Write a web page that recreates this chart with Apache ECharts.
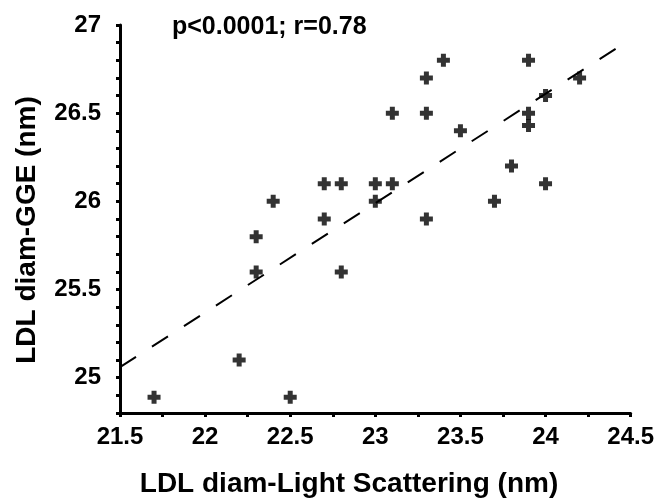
<!DOCTYPE html>
<html>
<head>
    <meta charset="utf-8"/>
    <title>LDL diam</title>
    <script src="https://cdn.jsdelivr.net/npm/echarts@6/dist/echarts.min.js"></script>
    <style>
        html, body { margin: 0; padding: 0; background: #fff; }
        #chart { width: 657px; height: 498px; }
    </style>
</head>
<body>
<div id="chart"></div>
<script>
    // LDL diameter, light scattering (x) vs GGE (y), nm
    var lightScatter = [21.7, 22.2, 22.5, 22.3, 22.3, 22.4, 22.7, 22.8, 22.7, 22.8,
        23.0, 23.0, 23.1, 23.1, 23.3, 23.3, 23.4, 23.3, 23.5, 23.7,
        23.8, 23.9, 23.9, 23.9, 24.0, 24.0, 24.2];
    var gge = [24.89, 25.1, 24.89, 25.8, 25.6, 26.0, 26.1, 26.1, 25.9, 25.6,
        26.1, 26.0, 26.1, 26.5, 26.5, 26.7, 26.8, 25.9, 26.4, 26.0,
        26.2, 26.8, 26.5, 26.43, 26.6, 26.1, 26.7];
    // regression line end points
    var fitX = [21.5, 24.42];
    var fitY = [25.06, 26.87];

    var font = '"Liberation Sans", Arial, sans-serif';
    var points = [];
    for (var i = 0; i < lightScatter.length; i++) {
        points.push([lightScatter[i], gge[i]]);
    }
    var fit = [];
    for (var j = 0; j < fitX.length; j++) {
        fit.push([fitX[j], fitY[j]]);
    }

    // only label the half-unit ticks
    function halfStep(v) {
        if (Math.abs(v * 2 - Math.round(v * 2)) < 1e-6) {
            return String(Math.round(v * 10) / 10);
        }
        return '';
    }

    var chart = echarts.init(document.getElementById('chart'));
    var option = {
        animation: false,
        grid: {left: 120, right: 24, top: 25, bottom: 85},
        xAxis: {
            type: 'value',
            min: 21.5,
            max: 24.5,
            interval: 0.25,
            splitLine: {show: false},
            axisLine: {lineStyle: {color: '#000', width: 3}},
            axisTick: {length: 4, lineStyle: {color: '#000', width: 3}},
            axisLabel: {
                color: '#000', fontFamily: font, fontWeight: 'bold', fontSize: 24,
                margin: 12, formatter: halfStep, showMinLabel: true, showMaxLabel: true
            }
        },
        yAxis: {
            type: 'value',
            min: 24.8,
            max: 27,
            interval: 0.1,
            splitLine: {show: false},
            axisLine: {lineStyle: {color: '#000', width: 3}},
            axisTick: {length: 4, lineStyle: {color: '#000', width: 3}},
            axisLabel: {
                color: '#000', fontFamily: font, fontWeight: 'bold', fontSize: 24,
                margin: 19, formatter: halfStep, showMaxLabel: true
            }
        },
        graphic: [
            {
                type: 'text', x: 172, y: 27,
                style: {
                    text: 'p<0.0001; r=0.78', fill: '#000', font: 'bold 25px ' + font,
                    verticalAlign: 'middle'
                }
            },
            {
                type: 'text', x: 349, y: 484,
                style: {
                    text: 'LDL diam-Light Scattering (nm)', fill: '#000', font: 'bold 28px ' + font,
                    align: 'center', verticalAlign: 'middle'
                }
            },
            {
                type: 'text', x: 27, y: 230, rotation: Math.PI / 2,
                style: {
                    text: 'LDL diam-GGE (nm)', fill: '#000', font: 'bold 28px ' + font,
                    align: 'center', verticalAlign: 'middle'
                }
            }
        ],
        series: [
            {
                type: 'line',
                data: fit,
                symbol: 'none',
                lineStyle: {color: '#000', width: 2, type: [19, 19]},
                z: 1
            },
            {
                type: 'scatter',
                data: points,
                symbol: 'path://M4,0H9V4H13V9H9V13H4V9H0V4H4Z',
                symbolSize: 13,
                itemStyle: {color: '#000'},
                z: 2
            }
        ]
    };
    chart.setOption(option);
</script>
</body>
</html>
